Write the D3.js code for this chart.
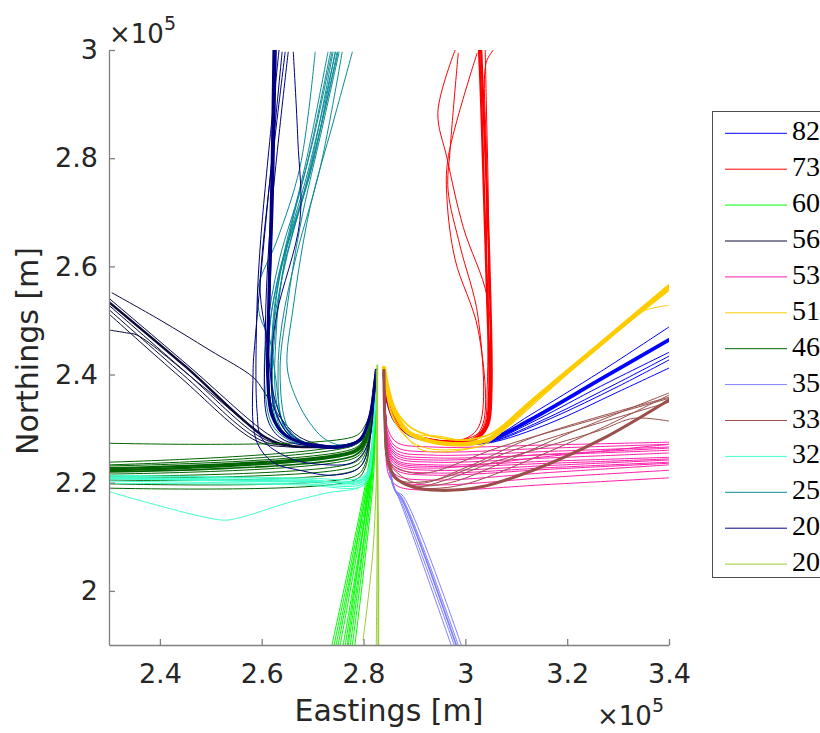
<!DOCTYPE html>
<html>
<head>
<meta charset="utf-8">
<script src="https://cdn.jsdelivr.net/npm/d3@7"></script>
<style>
  body { margin: 0; background: #fff; }
  svg { display: block; }
</style>
</head>
<body>
<svg id="chart" width="820" height="733"></svg>
<script>
// Flight tracks around the airfield, coordinates in units of 1e5 m: [easting, northing, ...]
// k = number of flights flown along (almost) the same path.
const xTicks = [2.4, 2.6, 2.8, 3.0, 3.2, 3.4];
const yTicks = [2.0, 2.2, 2.4, 2.6, 2.8, 3.0];
const legendLabels = ["82", "73", "60", "56", "53", "51", "46", "35", "33", "32", "25", "20", "20"];

const tracks82 = [
  {k: 5, xy: [2.840,2.408, 2.848,2.350, 2.862,2.315, 2.890,2.290, 2.935,2.277, 3.000,2.272, 3.049,2.279, 3.127,2.316, 3.265,2.391, 3.400,2.464]},
  {k: 1, xy: [2.840,2.408, 2.848,2.350, 2.862,2.315, 2.890,2.290, 2.935,2.277, 3.000,2.272, 3.049,2.281, 3.127,2.325, 3.265,2.405, 3.400,2.488]},
  {k: 1, xy: [2.840,2.408, 2.848,2.350, 2.862,2.315, 2.890,2.290, 2.935,2.277, 3.000,2.272, 3.049,2.277, 3.127,2.310, 3.265,2.378, 3.400,2.441]},
  {k: 1, xy: [2.840,2.408, 2.848,2.350, 2.862,2.315, 2.890,2.290, 2.935,2.277, 3.000,2.272, 3.049,2.276, 3.166,2.322, 3.300,2.385, 3.400,2.434]},
  {k: 1, xy: [2.840,2.408, 2.848,2.350, 2.862,2.315, 2.890,2.290, 2.935,2.277, 3.000,2.272, 3.049,2.275, 3.166,2.318, 3.300,2.378, 3.400,2.427]},
  {k: 1, xy: [2.840,2.408, 2.848,2.350, 2.862,2.315, 2.890,2.290, 2.935,2.277, 3.000,2.272, 3.049,2.274, 3.166,2.310, 3.300,2.368, 3.400,2.412]}
];

const tracks73 = [
  {k: 3, xy: [2.840,2.408, 2.848,2.350, 2.862,2.315, 2.890,2.290, 2.935,2.279, 2.985,2.274, 3.020,2.282, 3.040,2.305, 3.047,2.371, 3.043,2.538, 3.037,2.723, 3.031,2.907, 3.027,3.000]},
  {k: 3, xy: [2.840,2.408, 2.848,2.350, 2.862,2.315, 2.890,2.290, 2.935,2.279, 2.990,2.275, 3.025,2.283, 3.045,2.308, 3.051,2.371, 3.049,2.538, 3.043,2.723, 3.035,2.907, 3.031,3.000]},
  {k: 1, xy: [2.840,2.408, 2.848,2.350, 2.862,2.315, 2.890,2.290, 2.935,2.279, 2.985,2.275, 3.020,2.283, 3.038,2.310, 3.043,2.380, 3.045,2.538, 3.045,2.723, 3.041,2.907, 3.039,3.000]},
  {k: 1, xy: [2.840,2.408, 2.848,2.350, 2.862,2.315, 2.890,2.290, 2.935,2.279, 2.990,2.275, 3.025,2.284, 3.043,2.310, 3.049,2.380, 3.043,2.538, 3.041,2.815, 3.041,2.977, 3.055,3.000]},
  {k: 1, xy: [2.840,2.408, 2.848,2.350, 2.862,2.315, 2.890,2.290, 2.935,2.279, 3.009,2.283, 3.043,2.310, 3.049,2.414, 3.043,2.543, 2.996,2.672, 2.964,2.800, 2.946,2.885, 2.980,3.000]},
  {k: 1, xy: [2.840,2.408, 2.848,2.350, 2.862,2.315, 2.890,2.290, 2.935,2.279, 3.003,2.283, 3.029,2.310, 3.025,2.506, 2.990,2.636, 2.966,2.741, 2.970,2.815, 2.986,2.994]},
  {k: 1, xy: [2.840,2.408, 2.848,2.350, 2.862,2.315, 2.890,2.290, 2.935,2.279, 3.009,2.279, 3.035,2.310, 3.025,2.483, 2.980,2.612, 2.964,2.723, 2.966,2.800, 3.023,2.994]}
];

const tracks60 = [
  {k: 1, xy: [2.825,2.408, 2.824,2.330, 2.805,2.205, 2.738,1.900]},
  {k: 1, xy: [2.825,2.408, 2.824,2.330, 2.807,2.205, 2.742,1.900]},
  {k: 1, xy: [2.825,2.408, 2.824,2.330, 2.809,2.205, 2.746,1.900]},
  {k: 1, xy: [2.825,2.408, 2.824,2.330, 2.809,2.205, 2.750,1.900]},
  {k: 1, xy: [2.825,2.408, 2.824,2.330, 2.811,2.205, 2.754,1.900]},
  {k: 1, xy: [2.825,2.408, 2.824,2.330, 2.813,2.205, 2.760,1.900]},
  {k: 1, xy: [2.825,2.408, 2.824,2.330, 2.813,2.205, 2.764,1.900]},
  {k: 1, xy: [2.825,2.408, 2.824,2.330, 2.811,2.205, 2.768,1.900]},
  {k: 1, xy: [2.825,2.408, 2.824,2.330, 2.815,2.205, 2.770,1.900]},
  {k: 1, xy: [2.825,2.408, 2.824,2.330, 2.815,2.205, 2.774,1.900]},
  {k: 1, xy: [2.825,2.408, 2.824,2.330, 2.817,2.205, 2.778,1.900]},
  {k: 1, xy: [2.825,2.408, 2.824,2.330, 2.819,2.205, 2.783,1.900]}
];

const tracks56 = [
  {k: 3, xy: [2.300,2.534, 2.450,2.415, 2.607,2.284, 2.656,2.268, 2.715,2.266, 2.774,2.268, 2.799,2.284, 2.813,2.325, 2.821,2.380, 2.825,2.408]},
  {k: 1, xy: [2.300,2.541, 2.455,2.417, 2.612,2.290, 2.656,2.270, 2.715,2.266, 2.774,2.268, 2.799,2.284, 2.813,2.325, 2.821,2.380, 2.825,2.408]},
  {k: 1, xy: [2.300,2.528, 2.450,2.405, 2.600,2.283, 2.656,2.268, 2.715,2.266, 2.774,2.268, 2.799,2.284, 2.813,2.325, 2.821,2.380, 2.825,2.408]},
  {k: 1, xy: [2.306,2.551, 2.400,2.501, 2.498,2.445, 2.583,2.395, 2.603,2.371, 2.636,2.321, 2.675,2.284, 2.740,2.268, 2.799,2.284, 2.813,2.325, 2.821,2.380, 2.825,2.408]},
  {k: 1, xy: [2.302,2.482, 2.335,2.477, 2.355,2.473, 2.483,2.379, 2.610,2.283, 2.656,2.268, 2.715,2.266, 2.774,2.268, 2.799,2.284, 2.813,2.325, 2.821,2.380, 2.825,2.408]},
  {k: 1, xy: [2.300,2.520, 2.445,2.400, 2.595,2.280, 2.656,2.268, 2.715,2.266, 2.774,2.268, 2.799,2.284, 2.813,2.325, 2.821,2.380, 2.825,2.408]},
  {k: 1, xy: [2.300,2.512, 2.440,2.395, 2.590,2.277, 2.656,2.266, 2.715,2.266, 2.774,2.268, 2.799,2.284, 2.813,2.325, 2.821,2.380, 2.825,2.408]}
];

const tracks53 = [
  {k: 1, xy: [2.840,2.405, 2.843,2.330, 2.849,2.296, 2.866,2.274, 2.937,2.266, 3.167,2.270, 3.400,2.275]},
  {k: 1, xy: [2.840,2.405, 2.843,2.330, 2.849,2.287, 2.866,2.265, 2.937,2.257, 3.167,2.264, 3.400,2.271]},
  {k: 1, xy: [2.840,2.405, 2.843,2.330, 2.849,2.281, 2.866,2.259, 2.937,2.251, 3.167,2.258, 3.400,2.266]},
  {k: 1, xy: [2.840,2.405, 2.843,2.330, 2.849,2.276, 2.866,2.254, 2.937,2.246, 3.167,2.252, 3.400,2.260]},
  {k: 1, xy: [2.840,2.405, 2.843,2.330, 2.849,2.268, 2.866,2.246, 2.937,2.238, 3.167,2.246, 3.400,2.255]},
  {k: 1, xy: [2.840,2.405, 2.843,2.330, 2.849,2.263, 2.866,2.241, 2.937,2.233, 3.167,2.240, 3.400,2.247]},
  {k: 1, xy: [2.840,2.405, 2.843,2.330, 2.849,2.253, 2.866,2.231, 2.937,2.223, 3.167,2.232, 3.400,2.242]},
  {k: 1, xy: [2.840,2.405, 2.843,2.330, 2.849,2.244, 2.866,2.222, 2.937,2.214, 3.167,2.225, 3.400,2.236]},
  {k: 1, xy: [2.840,2.405, 2.843,2.330, 2.849,2.235, 2.866,2.213, 2.937,2.205, 3.167,2.219, 3.400,2.233]},
  {k: 1, xy: [2.840,2.405, 2.843,2.330, 2.849,2.226, 2.866,2.204, 2.937,2.196, 3.167,2.210, 3.400,2.223]},
  {k: 1, xy: [2.840,2.405, 2.843,2.330, 2.849,2.216, 2.866,2.194, 2.937,2.186, 3.167,2.197, 3.400,2.209]},
  {k: 1, xy: [2.840,2.405, 2.843,2.330, 2.849,2.272, 2.866,2.250, 2.937,2.242, 3.167,2.253, 3.400,2.264]},
  {k: 1, xy: [2.840,2.405, 2.843,2.330, 2.849,2.257, 2.866,2.235, 2.937,2.227, 3.167,2.249, 3.400,2.271]},
  {k: 1, xy: [2.840,2.405, 2.843,2.330, 2.849,2.262, 2.866,2.238, 2.937,2.230, 3.167,2.236, 3.400,2.244]},
  {k: 1, xy: [2.840,2.405, 2.843,2.330, 2.849,2.248, 2.866,2.226, 2.937,2.218, 3.167,2.228, 3.400,2.238]}
];

const tracks51 = [
  {k: 6, xy: [2.840,2.412, 2.848,2.371, 2.862,2.329, 2.887,2.294, 2.931,2.277, 2.990,2.271, 3.020,2.274, 3.049,2.282, 3.127,2.347, 3.265,2.456, 3.400,2.563]},
  {k: 2, xy: [2.840,2.412, 2.852,2.360, 2.872,2.322, 2.900,2.298, 2.950,2.283, 3.000,2.279, 3.049,2.290, 3.127,2.350, 3.265,2.455, 3.400,2.556]},
  {k: 1, xy: [2.840,2.412, 2.850,2.345, 2.866,2.305, 2.895,2.275, 2.935,2.262, 2.990,2.262, 3.030,2.268, 3.060,2.285, 3.127,2.340, 3.265,2.453, 3.400,2.560]},
  {k: 1, xy: [2.840,2.412, 2.848,2.371, 2.862,2.329, 2.887,2.294, 2.931,2.277, 2.990,2.271, 3.039,2.279, 3.127,2.345, 3.265,2.452, 3.343,2.515, 3.400,2.528]},
  {k: 1, xy: [2.840,2.412, 2.852,2.338, 2.875,2.300, 2.911,2.288, 2.950,2.286, 2.990,2.279, 3.049,2.282, 3.127,2.347, 3.265,2.456, 3.400,2.563]},
  {k: 1, xy: [2.840,2.412, 2.846,2.360, 2.858,2.318, 2.880,2.290, 2.911,2.262, 2.950,2.257, 3.003,2.262, 3.040,2.272, 3.080,2.300, 3.265,2.456, 3.400,2.562]}
];

const tracks46 = [
  {k: 1, xy: [2.300,2.273, 2.783,2.286, 2.803,2.306, 2.815,2.335, 2.823,2.380, 2.825,2.408]},
  {k: 1, xy: [2.300,2.238, 2.783,2.275, 2.803,2.297, 2.815,2.330, 2.823,2.380, 2.825,2.408]},
  {k: 1, xy: [2.300,2.233, 2.783,2.270, 2.803,2.292, 2.815,2.328, 2.823,2.380, 2.825,2.408]},
  {k: 1, xy: [2.300,2.231, 2.783,2.264, 2.803,2.286, 2.815,2.326, 2.823,2.380, 2.825,2.408]},
  {k: 3, xy: [2.300,2.227, 2.783,2.260, 2.803,2.282, 2.815,2.325, 2.823,2.380, 2.825,2.408]},
  {k: 3, xy: [2.300,2.223, 2.783,2.257, 2.803,2.279, 2.815,2.325, 2.823,2.380, 2.825,2.408]},
  {k: 2, xy: [2.300,2.220, 2.783,2.251, 2.803,2.273, 2.815,2.322, 2.823,2.380, 2.825,2.408]},
  {k: 1, xy: [2.300,2.216, 2.783,2.246, 2.803,2.268, 2.815,2.320, 2.823,2.380, 2.825,2.408]},
  {k: 1, xy: [2.300,2.212, 2.783,2.238, 2.803,2.260, 2.815,2.318, 2.823,2.380, 2.825,2.408]},
  {k: 1, xy: [2.300,2.209, 2.783,2.231, 2.803,2.253, 2.815,2.315, 2.823,2.380, 2.825,2.408]},
  {k: 1, xy: [2.300,2.205, 2.783,2.223, 2.803,2.245, 2.815,2.310, 2.823,2.380, 2.825,2.408]},
  {k: 1, xy: [2.300,2.198, 2.783,2.212, 2.803,2.234, 2.815,2.305, 2.823,2.380, 2.825,2.408]},
  {k: 1, xy: [2.300,2.190, 2.783,2.205, 2.803,2.227, 2.815,2.300, 2.823,2.380, 2.825,2.408]}
];

const tracks35 = [
  {k: 1, xy: [2.840,2.408, 2.842,2.310, 2.848,2.242, 2.862,2.186, 2.870,2.170, 2.972,1.900]},
  {k: 1, xy: [2.840,2.408, 2.842,2.310, 2.848,2.242, 2.862,2.186, 2.872,2.170, 2.978,1.900]},
  {k: 2, xy: [2.840,2.408, 2.842,2.310, 2.848,2.242, 2.862,2.186, 2.874,2.172, 2.982,1.900]},
  {k: 1, xy: [2.840,2.408, 2.842,2.310, 2.848,2.242, 2.862,2.186, 2.876,2.172, 2.986,1.900]},
  {k: 1, xy: [2.840,2.408, 2.842,2.310, 2.848,2.242, 2.862,2.186, 2.878,2.175, 2.992,1.900]}
];

const tracks33 = [
  {k: 4, xy: [2.840,2.408, 2.842,2.316, 2.848,2.242, 2.862,2.210, 2.897,2.192, 2.950,2.186, 3.029,2.192, 3.133,2.223, 3.265,2.279, 3.400,2.353]},
  {k: 1, xy: [2.840,2.408, 2.842,2.316, 2.848,2.242, 2.872,2.214, 2.911,2.199, 3.003,2.229, 3.133,2.284, 3.400,2.358]},
  {k: 1, xy: [2.840,2.408, 2.842,2.316, 2.848,2.242, 2.880,2.222, 2.925,2.218, 3.068,2.266, 3.265,2.320, 3.400,2.356]},
  {k: 1, xy: [2.840,2.408, 2.842,2.316, 2.848,2.242, 2.862,2.210, 2.897,2.192, 2.950,2.190, 3.010,2.200, 3.133,2.245, 3.265,2.300, 3.400,2.362]},
  {k: 1, xy: [2.840,2.408, 2.842,2.316, 2.848,2.242, 2.862,2.210, 2.897,2.192, 3.068,2.242, 3.133,2.260, 3.265,2.297, 3.330,2.319, 3.400,2.314]},
  {k: 1, xy: [2.840,2.408, 2.842,2.316, 2.848,2.242, 2.862,2.210, 2.897,2.195, 2.970,2.200, 3.080,2.240, 3.200,2.290, 3.400,2.366]},
  {k: 1, xy: [2.840,2.408, 2.842,2.316, 2.850,2.230, 2.870,2.205, 2.940,2.205, 3.100,2.262, 3.400,2.349]}
];

const tracks32 = [
  {k: 1, xy: [2.300,2.214, 2.675,2.209, 2.793,2.209, 2.809,2.224, 2.819,2.300, 2.825,2.380, 2.827,2.410]},
  {k: 1, xy: [2.300,2.210, 2.675,2.205, 2.793,2.203, 2.809,2.218, 2.819,2.300, 2.825,2.380, 2.827,2.410]},
  {k: 1, xy: [2.300,2.207, 2.675,2.201, 2.793,2.199, 2.809,2.214, 2.819,2.300, 2.825,2.380, 2.827,2.410]},
  {k: 1, xy: [2.300,2.203, 2.675,2.198, 2.793,2.196, 2.809,2.211, 2.819,2.300, 2.825,2.380, 2.827,2.410]},
  {k: 1, xy: [2.300,2.199, 2.675,2.196, 2.793,2.192, 2.809,2.207, 2.819,2.300, 2.825,2.380, 2.827,2.410]},
  {k: 2, xy: [2.300,2.209, 2.675,2.203, 2.793,2.205, 2.809,2.220, 2.819,2.300, 2.825,2.380, 2.827,2.410]},
  {k: 1, xy: [2.300,2.212, 2.675,2.207, 2.793,2.201, 2.809,2.216, 2.819,2.300, 2.825,2.380, 2.827,2.410]},
  {k: 1, xy: [2.302,2.183, 2.522,2.131, 2.555,2.135, 2.648,2.162, 2.727,2.181, 2.793,2.192, 2.809,2.210, 2.819,2.279, 2.825,2.390, 2.827,2.410]}
];

const tracks25 = [
  {k: 1, xy: [2.778,2.996, 2.740,2.865, 2.695,2.709, 2.662,2.525, 2.650,2.414, 2.669,2.353, 2.695,2.310, 2.721,2.283, 2.754,2.270, 2.799,2.284, 2.813,2.325, 2.821,2.380, 2.825,2.408]},
  {k: 1, xy: [2.705,2.996, 2.675,2.783, 2.630,2.648, 2.593,2.562, 2.597,2.506, 2.616,2.464, 2.626,2.403, 2.646,2.297, 2.675,2.273, 2.734,2.268, 2.774,2.268, 2.799,2.284, 2.813,2.325, 2.821,2.380, 2.825,2.408]},
  {k: 1, xy: [2.748,2.996, 2.695,2.772, 2.636,2.587, 2.620,2.464, 2.626,2.340, 2.650,2.292, 2.695,2.270, 2.734,2.268, 2.774,2.268, 2.799,2.284, 2.813,2.325, 2.821,2.380, 2.825,2.408]},
  {k: 1, xy: [2.744,2.996, 2.700,2.790, 2.644,2.600, 2.628,2.470, 2.630,2.345, 2.655,2.293, 2.700,2.270, 2.734,2.268, 2.774,2.268, 2.799,2.284, 2.813,2.325, 2.821,2.380, 2.825,2.408]},
  {k: 1, xy: [2.750,2.996, 2.690,2.760, 2.632,2.580, 2.614,2.460, 2.620,2.335, 2.645,2.290, 2.690,2.271, 2.734,2.268, 2.774,2.268, 2.799,2.284, 2.813,2.325, 2.821,2.380, 2.825,2.408]},
  {k: 1, xy: [2.730,2.996, 2.689,2.802, 2.642,2.617, 2.616,2.495, 2.612,2.403, 2.630,2.310, 2.675,2.273, 2.734,2.268, 2.774,2.268, 2.799,2.284, 2.813,2.325, 2.821,2.380, 2.825,2.408]},
  {k: 1, xy: [2.758,2.996, 2.715,2.783, 2.669,2.624, 2.640,2.495, 2.632,2.403, 2.642,2.310, 2.680,2.272, 2.734,2.268, 2.774,2.268, 2.799,2.284, 2.813,2.325, 2.821,2.380, 2.825,2.408]},
  {k: 1, xy: [2.738,2.996, 2.701,2.833, 2.652,2.648, 2.626,2.477, 2.622,2.371, 2.640,2.297, 2.680,2.272, 2.734,2.268, 2.774,2.268, 2.799,2.284, 2.813,2.325, 2.821,2.380, 2.825,2.408]},
  {k: 1, xy: [2.752,2.996, 2.721,2.865, 2.675,2.672, 2.650,2.525, 2.636,2.403, 2.652,2.301, 2.690,2.272, 2.734,2.268, 2.774,2.268, 2.799,2.284, 2.813,2.325, 2.821,2.380, 2.825,2.408]},
  {k: 1, xy: [2.740,2.996, 2.697,2.790, 2.645,2.600, 2.622,2.480, 2.618,2.390, 2.635,2.300, 2.680,2.272, 2.734,2.268, 2.774,2.268, 2.799,2.284, 2.813,2.325, 2.821,2.380, 2.825,2.408]},
  {k: 1, xy: [2.745,2.996, 2.692,2.780, 2.638,2.595, 2.622,2.470, 2.624,2.350, 2.648,2.295, 2.695,2.270, 2.734,2.268, 2.774,2.268, 2.799,2.284, 2.813,2.325, 2.821,2.380, 2.825,2.408]},
  {k: 1, xy: [2.735,2.996, 2.684,2.770, 2.634,2.610, 2.610,2.480, 2.606,2.380, 2.622,2.305, 2.665,2.274, 2.734,2.268, 2.774,2.268, 2.799,2.284, 2.813,2.325, 2.821,2.380, 2.825,2.408]}
];

const tracks20n = [
  {k: 4, xy: [2.624,3.000, 2.620,2.760, 2.614,2.538, 2.612,2.390, 2.620,2.325, 2.646,2.288, 2.695,2.270, 2.754,2.266, 2.793,2.279, 2.813,2.325, 2.823,2.390, 2.825,2.408]},
  {k: 2, xy: [2.628,3.000, 2.622,2.723, 2.614,2.480, 2.616,2.353, 2.632,2.300, 2.660,2.280, 2.695,2.272, 2.754,2.268, 2.793,2.281, 2.813,2.325, 2.823,2.390, 2.825,2.408]},
  {k: 1, xy: [2.640,2.996, 2.587,2.464, 2.583,2.403, 2.589,2.279, 2.622,2.238, 2.675,2.223, 2.740,2.214, 2.793,2.229, 2.813,2.284, 2.823,2.390, 2.825,2.408]},
  {k: 1, xy: [2.646,2.996, 2.601,2.624, 2.597,2.551, 2.610,2.464, 2.626,2.353, 2.656,2.292, 2.695,2.270, 2.754,2.266, 2.793,2.279, 2.813,2.325, 2.823,2.390, 2.825,2.408]},
  {k: 1, xy: [2.662,2.996, 2.671,2.833, 2.675,2.685, 2.630,2.514, 2.620,2.432, 2.626,2.334, 2.665,2.279, 2.734,2.266, 2.793,2.279, 2.813,2.325, 2.823,2.390, 2.825,2.408]},
  {k: 1, xy: [2.652,2.996, 2.616,2.667, 2.607,2.464, 2.612,2.316, 2.640,2.281, 2.695,2.268, 2.754,2.266, 2.793,2.279, 2.813,2.325, 2.823,2.390, 2.825,2.408]},
  {k: 1, xy: [2.634,3.000, 2.598,2.650, 2.590,2.500, 2.591,2.330, 2.600,2.282, 2.656,2.245, 2.715,2.234, 2.780,2.238, 2.808,2.270, 2.819,2.340, 2.825,2.408]}
];

const tracks20g = [
  {k: 2, xy: [2.827,2.417, 2.827,2.260, 2.829,2.076, 2.829,1.900]},
  {k: 1, xy: [2.827,2.408, 2.825,2.205, 2.817,2.057, 2.799,1.909]},
  {k: 1, xy: [2.825,2.408, 2.827,2.168, 2.825,1.900]}
];

// Drawing order follows the legend: later groups are painted on top.
const seriesTracks = [tracks82, tracks73, tracks60, tracks56, tracks53, tracks51, tracks46,
                      tracks35, tracks33, tracks32, tracks25, tracks20n, tracks20g];
const palette = ["#0000ff", "#ff0000", "#00ff00", "#0b0b3c", "#ff1eaa", "#ffcc00", "#006400",
                 "#8080ff", "#9a4f4a", "#40ffcc", "#0a8a96", "#000080", "#9acd32"];

const svg = d3.select("#chart");
const W = 820, H = 733;
const plot = {left: 109, right: 669, top: 50, bottom: 645};

const x = d3.scaleLinear().domain([2.3, 3.4]).range([plot.left, plot.right]);
const y = d3.scaleLinear().domain([1.9, 3.0]).range([plot.bottom, plot.top]);

svg.append("rect").attr("width", W).attr("height", H).attr("fill", "#fff");

svg.append("defs").append("clipPath").attr("id", "plotClip")
  .append("rect")
  .attr("x", plot.left).attr("y", plot.top)
  .attr("width", plot.right - plot.left).attr("height", plot.bottom - plot.top);

const toPairs = flat => {
  const out = [];
  for (let i = 0; i < flat.length; i += 2) out.push([flat[i], flat[i + 1]]);
  return out;
};

const line = d3.line()
  .x(d => x(d[0]))
  .y(d => y(d[1]))
  .curve(d3.curveCatmullRom.alpha(0.5));

const tracksLayer = svg.append("g").attr("clip-path", "url(#plotClip)");
seriesTracks.forEach((tracks, i) => {
  tracksLayer.append("g")
    .selectAll("path")
    .data(tracks)
    .join("path")
    .attr("d", t => line(toPairs(t.xy)))
    .attr("fill", "none")
    .attr("stroke", palette[i])
    .attr("stroke-width", t => 1 + 0.7 * (t.k - 1))
    .attr("stroke-linejoin", "round")
    .attr("stroke-linecap", "round");
});

// Axes (ticks point inward)
const tickFmt = d => d3.format(".1f")(d).replace(/\.0$/, "");
const axisColor = "#808080";
const textColor = "#262626";
const fontSans = "'DejaVu Sans', sans-serif";

const gx = svg.append("g")
  .attr("transform", `translate(0,${plot.bottom})`)
  .call(d3.axisBottom(x).tickValues(xTicks).tickFormat(tickFmt)
        .tickSizeInner(-6).tickSizeOuter(0).tickPadding(12));
const gy = svg.append("g")
  .attr("transform", `translate(${plot.left},0)`)
  .call(d3.axisLeft(y).tickValues(yTicks).tickFormat(tickFmt)
        .tickSizeInner(-6).tickSizeOuter(0).tickPadding(11));

[gx, gy].forEach(g => {
  g.select(".domain").attr("stroke", axisColor).attr("stroke-width", 1.3);
  g.selectAll(".tick line").attr("stroke", axisColor).attr("stroke-width", 1.3);
  g.selectAll(".tick text").attr("fill", textColor)
    .style("font-family", fontSans).style("font-size", "27px");
});
gx.selectAll(".tick text").attr("dy", "0.95em");

// Axis titles
svg.append("text")
  .attr("x", 389).attr("y", 721)
  .attr("text-anchor", "middle")
  .attr("fill", textColor)
  .style("font-family", fontSans).style("font-size", "30px")
  .text("Eastings [m]");

svg.append("text")
  .attr("transform", "translate(38,351) rotate(-90)")
  .attr("text-anchor", "middle")
  .attr("fill", textColor)
  .style("font-family", fontSans).style("font-size", "30px")
  .text("Northings [m]");

// Exponent labels
function exponentLabel(px, py) {
  const t = svg.append("text")
    .attr("x", px).attr("y", py)
    .attr("fill", textColor)
    .style("font-family", fontSans).style("font-size", "26px");
  t.append("tspan").text("×10");
  t.append("tspan").attr("dy", -13).style("font-size", "19px").text("5");
}
exponentLabel(109, 43);
exponentLabel(597, 725);

// Legend
const legend = {left: 712.5, top: 111.5, bottom: 577.5, first: 133.3, step: 35.9};
svg.append("rect")
  .attr("x", legend.left).attr("y", legend.top)
  .attr("width", 200).attr("height", legend.bottom - legend.top)
  .attr("fill", "#fff").attr("stroke", "#4d4d4d").attr("stroke-width", 1);

const items = svg.append("g").selectAll("g")
  .data(legendLabels)
  .join("g")
  .attr("transform", (d, i) => `translate(0,${legend.first + i * legend.step})`);
items.append("line")
  .attr("x1", 725).attr("x2", 787)
  .attr("y1", 0).attr("y2", 0)
  .attr("stroke", (d, i) => palette[i]).attr("stroke-width", 1);
items.append("text")
  .attr("x", 792).attr("y", 7)
  .attr("fill", "#000")
  .style("font-family", "'Liberation Serif', 'DejaVu Serif', serif")
  .style("font-size", "28px")
  .text(d => d);
</script>
</body>
</html>
